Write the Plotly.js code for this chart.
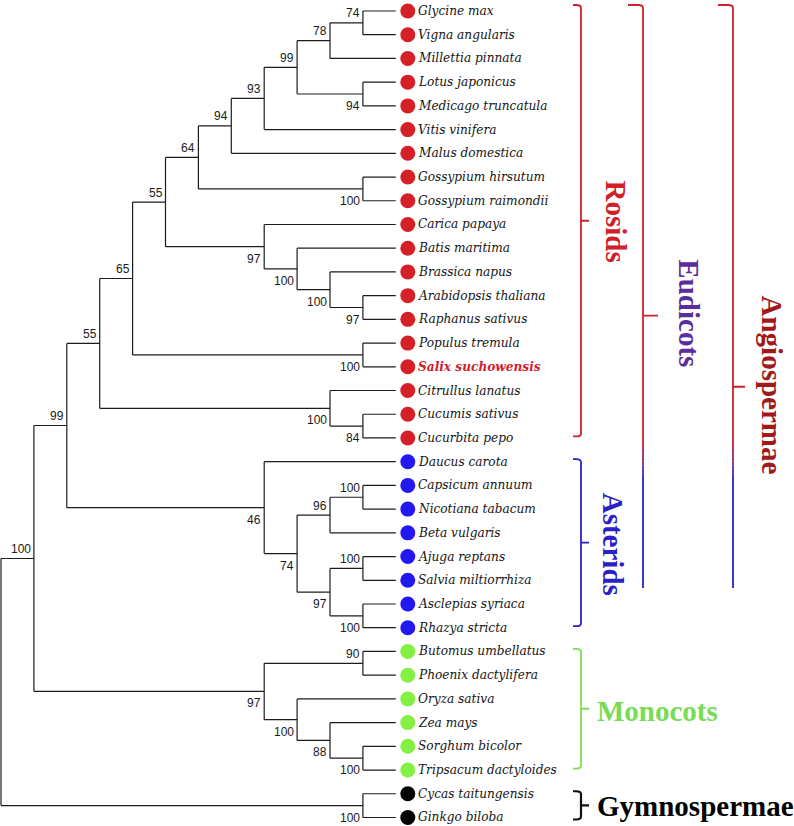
<!DOCTYPE html>
<html><head><meta charset="utf-8">
<script src="https://cdn.plot.ly/plotly-3.0.1.min.js"></script>
<style>html,body{margin:0;padding:0;background:#fff}</style>
</head><body><div id="chart" style="width:794px;height:826px"></div>
<script>
// ---------- DATA ----------
const species = ["Glycine max","Vigna angularis","Millettia pinnata","Lotus japonicus","Medicago truncatula","Vitis vinifera","Malus domestica","Gossypium hirsutum","Gossypium raimondii","Carica papaya","Batis maritima","Brassica napus","Arabidopsis thaliana","Raphanus sativus","Populus tremula","Salix suchowensis","Citrullus lanatus","Cucumis sativus","Cucurbita pepo","Daucus carota","Capsicum annuum","Nicotiana tabacum","Beta vulgaris","Ajuga reptans","Salvia miltiorrhiza","Asclepias syriaca","Rhazya stricta","Butomus umbellatus","Phoenix dactylifera","Oryza sativa","Zea mays","Sorghum bicolor","Tripsacum dactyloides","Cycas taitungensis","Ginkgo biloba"];
// topology (leaf indices into species), Newick style
const topology = "((((((((((((0,1),2),(3,4)),5),6),(7,8)),(9,(10,(11,(12,13))))),(14,15)),(16,(17,18))),(19,(((20,21),22),((23,24),(25,26))))),((27,28),(29,(30,(31,32))))),(33,34))";
// bootstrap support for internal nodes, in post-order (order of closing brackets)
const support = [74,78,94,99,93,94,100,64,97,100,100,97,55,100,65,84,100,55,100,96,100,100,97,74,46,99,90,100,88,100,97,100,100,null];
const highlighted = ["Salix suchowensis"];
const clades = ["Rosids","Asterids","Monocots","Gymnospermae"];
const cladeFirst = [0,19,27,33];
const cladeLast = [18,26,32,34];
const superClades = ["Eudicots","Angiospermae"];
const superFirst = [0,0];
const superLast = [26,32];

// ---------- STYLE ----------
const cladeColor = {Rosids:"#d0202a", Asterids:"#2a22c4", Monocots:"#7fdc55", Gymnospermae:"#111111"};
const dotColor = {Rosids:"#d42026", Asterids:"#2418f0", Monocots:"#84f044", Gymnospermae:"#000000"};
const cladeTextColor = {Rosids:"#d0202a", Asterids:"#2a1fc8", Monocots:"#78dc55", Gymnospermae:"#000000"};
const superTextColor = {Eudicots:"#5b2c9e", Angiospermae:"#a01a1c"};
const W = 794, H = 826;
const LX = 32.9, X0 = 1;      // px per tree level, px of root
const LY = 23.72, Y0 = 11;    // px per leaf, px of first leaf

// ---------- PARSE TREE ----------
function parse(s){
  let pos = 0, k = 0;
  function node(){
    if (s[pos] === '('){
      pos++;
      const ch = [node()];
      while (s[pos] === ','){ pos++; ch.push(node()); }
      pos++;
      return {children: ch, support: support[k++]};
    }
    let t = '';
    while (/[0-9]/.test(s[pos])) t += s[pos++];
    return {leaf: +t};
  }
  return node();
}
const root = parse(topology);
function height(n){ return n.children ? 1 + Math.max(...n.children.map(height)) : 0; }
const HR = height(root);
function place(n){
  if (!n.children){ n.x = HR; n.y = n.leaf; n.h = 0; return; }
  n.children.forEach(place);
  n.h = 1 + Math.max(...n.children.map(c => c.h));
  n.x = HR - n.h;
  n.y = (n.children[0].y + n.children[n.children.length-1].y) / 2;
}
place(root);

const lx = [], ly = [], ann = [];
function walk(n){
  if (!n.children) return;
  const f = n.children[0], l = n.children[n.children.length-1];
  lx.push(n.x, n.x, null); ly.push(f.y, l.y, null);
  n.children.forEach((c, i) => {
    lx.push(n.x, c.x, null); ly.push(c.y, c.y, null);
    if (c.children && c.support != null){
      const above = i === 0;
      ann.push({x: c.x, y: c.y, xref:'x', yref:'y', text: String(c.support), showarrow:false,
        xanchor:'right', yanchor:'middle', xshift:-1, yshift: above ? 9.5 : -12,
        font:{family:'Liberation Sans, Arial, sans-serif', size:12, color:'#1a1a1a'}});
    }
    walk(c);
  });
}
walk(root);

// group per leaf
const leafGroup = species.map((s, i) => clades[clades.findIndex((c, j) => i >= cladeFirst[j] && i <= cladeLast[j])]);

const traces = [{
  x: lx, y: ly, mode:'lines', type:'scatter', hoverinfo:'skip',
  line:{color:'#1c1c1c', width:1.2}
}, {
  x: species.map(() => HR + 12/LX), y: species.map((s, i) => i), mode:'markers', type:'scatter', hoverinfo:'skip',
  marker:{size:15, color: leafGroup.map(g => dotColor[g]), line:{width:0}}
}];

species.forEach((s, i) => {
  const hi = highlighted.includes(s);
  ann.push({x: HR, y: i, xref:'x', yref:'y', xanchor:'left', yanchor:'middle', xshift:20, yshift:1, showarrow:false,
    text: hi ? '<b><i>' + s + '</i></b>' : '<i>' + s + '</i>',
    font:{family:'DejaVu Serif Condensed, Liberation Serif, serif', size:13.5, color: hi ? '#d0202a' : '#151515'}});
});

// ---------- brackets ----------
const px = v => v / W;                 // paper x from pixel
const dy = p => p / LY;                // leaf units from pixels
const shapes = [];
function bracket(xh, xv, xt, top, bot, mid, color, width, hookBottom){
  const r = 0.006, ry = dy(3);
  let p = `M ${px(xh)} ${top} L ${px(xv)-r} ${top} Q ${px(xv)} ${top} ${px(xv)} ${top+ry} L ${px(xv)} ${hookBottom ? bot-ry : bot}`;
  if (hookBottom) p += ` Q ${px(xv)} ${bot} ${px(xv)-r} ${bot} L ${px(xh)} ${bot}`;
  p += ` M ${px(xv)} ${mid} L ${px(xt)} ${mid}`;
  shapes.push({type:'path', xref:'paper', yref:'y', path:p, line:{color:color, width:width}});
}
clades.forEach((c, j) => {
  const top = cladeFirst[j] - dy(j === 0 ? 6 : 2.5), bot = cladeLast[j] + dy(j === 3 ? 2 : -1.5);
  bracket(573, 581, 589, top, bot, (top + bot) / 2, cladeColor[c], c === 'Gymnospermae' ? 2.2 : 1.8, true);
});
// super clades: red upper part fading into blue
const superX = [[628, 643, 658], [718, 733, 745]];
const lineEnd = dy(588 - Y0);
function mix(a, b, t){
  const pa = [1,3,5].map(i => parseInt(a.substr(i,2),16)), pb = [1,3,5].map(i => parseInt(b.substr(i,2),16));
  return 'rgb(' + pa.map((v, i) => Math.round(v + (pb[i]-v)*t)).join(',') + ')';
}
superClades.forEach((c, j) => {
  const [xh, xv, xt] = superX[j];
  const top = superFirst[j] - dy(6), full = superLast[j] + dy(-1.5);
  const mid = (top + full) / 2;
  const g0 = dy(445 - Y0), g1 = dy(478 - Y0);
  bracket(xh, xv, xt, top, g0, mid, '#d0202a', 1.8, false);
  const n = 8;
  for (let s = 0; s < n; s++){
    shapes.push({type:'line', xref:'paper', yref:'y', x0:px(xv), x1:px(xv),
      y0: g0 + (g1-g0)*s/n, y1: g0 + (g1-g0)*(s+1)/n, line:{color: mix('#d0202a','#2a22c4',(s+0.5)/n), width:1.8}});
  }
  shapes.push({type:'line', xref:'paper', yref:'y', x0:px(xv), x1:px(xv), y0:g1, y1:lineEnd, line:{color:'#2a22c4', width:1.8}});
});

// clade titles
const bigFont = (col) => ({family:'Liberation Serif, Times New Roman, serif', size:29, color:col});
const cladeMid = j => (cladeFirst[j] + cladeLast[j]) / 2;
ann.push({xref:'paper', yref:'y', x:px(616), y:cladeMid(0) - dy(3), text:'<b>Rosids</b>', textangle:90, showarrow:false, xanchor:'center', yanchor:'middle', font:bigFont(cladeTextColor.Rosids)});
ann.push({xref:'paper', yref:'y', x:px(613), y:cladeMid(1) - dy(1), text:'<b>Asterids</b>', textangle:90, showarrow:false, xanchor:'center', yanchor:'middle', font:bigFont(cladeTextColor.Asterids)});
ann.push({xref:'paper', yref:'y', x:px(595), y:cladeMid(2), text:'<b>Monocots</b>', showarrow:false, xanchor:'left', yanchor:'middle', font:bigFont(cladeTextColor.Monocots)});
ann.push({xref:'paper', yref:'y', x:px(595), y:cladeMid(3), text:'<b>Gymnospermae</b>', showarrow:false, xanchor:'left', yanchor:'middle', font:bigFont(cladeTextColor.Gymnospermae)});
ann.push({xref:'paper', yref:'y', x:px(689), y:(superFirst[0]+superLast[0])/2 - dy(6), text:'<b>Eudicots</b>', textangle:90, showarrow:false, xanchor:'center', yanchor:'middle', font:bigFont(superTextColor.Eudicots)});
ann.push({xref:'paper', yref:'y', x:px(772), y:(superFirst[1]+superLast[1])/2 - dy(6), text:'<b>Angiospermae</b>', textangle:90, showarrow:false, xanchor:'center', yanchor:'middle', font:bigFont(superTextColor.Angiospermae)});

const layout = {
  width: W, height: H, margin:{l:0, r:0, t:0, b:0},
  paper_bgcolor:'#fff', plot_bgcolor:'#fff', showlegend:false, hovermode:false,
  xaxis:{range:[-X0/LX, (W - X0)/LX], visible:false, fixedrange:true},
  yaxis:{range:[(H - Y0)/LY, -Y0/LY], visible:false, fixedrange:true},
  annotations: ann, shapes: shapes
};
Plotly.newPlot('chart', traces, layout, {displayModeBar:false, staticPlot:true});
</script></body></html>
